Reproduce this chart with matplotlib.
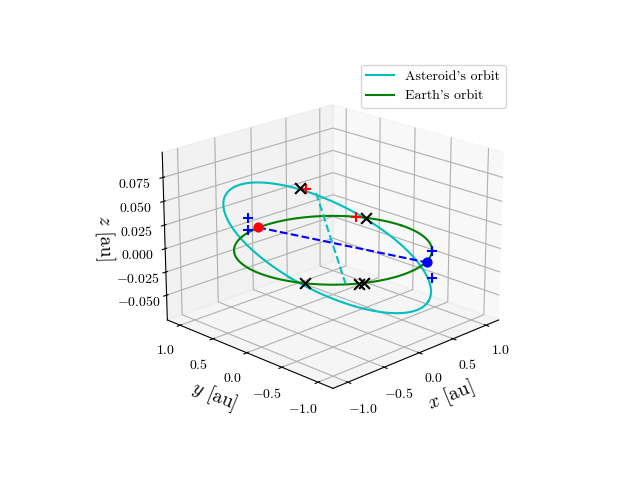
import numpy as np
import matplotlib
matplotlib.use("Agg")
import matplotlib.pyplot as plt

plt.rcParams['font.family'] = 'serif'
plt.rcParams['font.serif'] = ['cmr10']
plt.rcParams['mathtext.fontset'] = 'cm'
plt.rcParams['axes.formatter.use_mathtext'] = True

# orbital elements of the asteroid (a [au], e, i [deg], node [deg], arg. peri [deg])
ast_a, ast_e, ast_i, ast_node, ast_peri = 1.05, 0.05, 2.65, 29.0, 270.0
earth_r = 1.0

# marker positions [au]
black_x = [(0.42, 0.91, 0.033), (0.91, 0.42, 0.0), (-0.87, -0.49, 0.0),
           (-0.51, -0.86, 0.0), (-0.46, -0.88, 0.0)]
red_plus = [(0.48, 0.88, 0.031), (0.86, 0.51, 0.0)]
blue_plus = [(-0.29, 0.95, 0.0165), (-0.29, 0.95, 0.003),
             (0.71, -0.71, -0.003), (0.71, -0.71, -0.031)]
red_dot = (-0.10, 1.00, 0.0)
blue_dot = (0.42, -0.90, -0.002)
cyan_dash = [(0.50, 0.75, 0.029), (-0.60, -0.77, 0.0)]

def orbit(a, e, inc, node, peri, nu):
    inc, node, peri = np.radians([inc, node, peri])
    r = a*(1-e**2)/(1+e*np.cos(nu))
    u = nu + peri
    x = r*(np.cos(node)*np.cos(u) - np.sin(node)*np.sin(u)*np.cos(inc))
    y = r*(np.sin(node)*np.cos(u) + np.cos(node)*np.sin(u)*np.cos(inc))
    z = r*np.sin(u)*np.sin(inc)
    return x, y, z

fig = plt.figure(figsize=(6.4, 4.8), dpi=100)
ax = fig.add_subplot(projection='3d')
nu = np.linspace(0, 2*np.pi, 400)
ax.plot(*orbit(ast_a, ast_e, ast_i, ast_node, ast_peri, nu), color='c', label="Asteroid's orbit")
th = np.linspace(0, 2*np.pi, 400)
ax.plot(earth_r*np.cos(th), earth_r*np.sin(th), 0*th, color='g', label="Earth's orbit")

cd = np.array(cyan_dash).T
ax.plot(*cd, 'c--')
nd = np.array([red_dot, blue_dot]).T
ax.plot(*nd, 'b--')
ax.scatter(*[[v] for v in red_dot], color='r', s=40, depthshade=False)
ax.scatter(*[[v] for v in blue_dot], color='b', s=40, depthshade=False)

bx = np.array(black_x).T
ax.scatter(*bx, marker='x', color='k', s=60, linewidths=1.5, depthshade=False)
rp = np.array(red_plus).T
ax.scatter(*rp, marker='+', color='r', s=60, linewidths=1.5, depthshade=False)
bp = np.array(blue_plus).T
ax.scatter(*bp, marker='+', color='b', s=60, linewidths=1.5, depthshade=False)

ax.view_init(elev=20, azim=-135)
ax.set_xlim(-1.2, 1.2); ax.set_ylim(-1.2, 1.2); ax.set_zlim(-0.077, 0.101)
ax.set_xticks([-1.0, -0.5, 0.0, 0.5, 1.0])
ax.set_yticks([-1.0, -0.5, 0.0, 0.5, 1.0])
ax.set_zticks([-0.05, -0.025, 0.0, 0.025, 0.05, 0.075])
ax.set_xlabel(r'$x$ [au]', fontsize=14)
ax.set_ylabel(r'$y$ [au]', fontsize=14)
ax.set_zlabel(r'$z$ [au]', fontsize=14)
fig.legend(loc='upper right', bbox_to_anchor=(0.801, 0.88), fontsize=10)
fig.savefig('out.png', dpi=100)
